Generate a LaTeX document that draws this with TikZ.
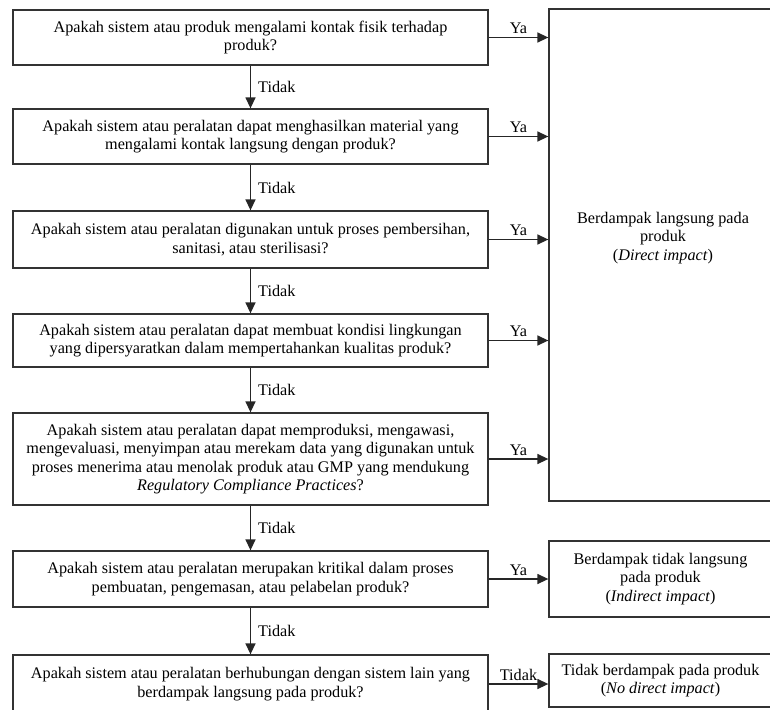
\documentclass[tikz,border=0pt]{standalone}
\usepackage{fontspec}
\setmainfont{Liberation Serif}
\usetikzlibrary{arrows.meta}
\begin{document}
\begin{tikzpicture}[x=1pt,y=-1pt,
  txt/.style={font=\fontsize{16.2}{18.5}\selectfont},
  q/.style={txt, draw=black!80, line width=1.3pt, minimum width=475pt, align=center, inner sep=2pt},
  r/.style={txt, draw=black!80, line width=1.3pt, minimum width=223pt, align=center, inner sep=2pt},
  arr/.style={-{Triangle[length=11pt,width=10pt]}, line width=1.4pt, draw=black!85, fill=black!85},
  lab/.style={txt, inner sep=1pt}]
\useasboundingbox (0,0) rectangle (770,709);

\node[q, minimum height=55pt] (q1) at (250.5,37.5) {Apakah sistem atau produk mengalami kontak fisik terhadap\\produk?};
\node[q, minimum height=55pt] (q2) at (250.5,136.5) {Apakah sistem atau peralatan dapat menghasilkan material yang\\mengalami kontak langsung dengan produk?};
\node[q, minimum height=57pt] (q3) at (250.5,239.5) {Apakah sistem atau peralatan digunakan untuk proses pembersihan,\\sanitasi, atau sterilisasi?};
\node[q, minimum height=53pt] (q4) at (250.5,340.5) {Apakah sistem atau peralatan dapat membuat kondisi lingkungan\\yang dipersyaratkan dalam mempertahankan kualitas produk?};
\node[q, minimum height=92pt] (q5) at (250.5,459) {Apakah sistem atau peralatan dapat memproduksi, mengawasi,\\mengevaluasi, menyimpan atau merekam data yang digunakan untuk\\proses menerima atau menolak produk atau GMP yang mendukung\\\textit{Regulatory Compliance Practices}?};
\node[q, minimum height=56pt] (q6) at (250.5,579) {Apakah sistem atau peralatan merupakan kritikal dalam proses\\pembuatan, pengemasan, atau pelabelan produk?};
\node[q, minimum height=58pt] (q7) at (250.5,684) {Apakah sistem atau peralatan berhubungan dengan sistem lain yang\\berdampak langsung pada produk?};

\node[r, minimum height=492pt] (big) at (660.5,255) {};
\node[txt, align=center] (bigtext) at (663,238) {Berdampak langsung pada\\produk\\(\textit{Direct impact})};
\node[r, minimum height=76pt] (ind) at (660.5,579) {Berdampak tidak langsung\\pada produk\\(\textit{Indirect impact})};
\node[r, minimum height=53pt] (none) at (660.5,680.5) {Tidak berdampak pada produk\\(\textit{No direct impact})};

\foreach \a/\b in {q1/q2,q2/q3,q3/q4,q4/q5,q5/q6,q6/q7}
  \draw[arr] (\a) -- node[lab, right, xshift=6pt]{Tidak} (\b);
\foreach \a in {q1,q2,q3,q4,q5}
  \draw[arr] (\a.east) -- node[lab, above, yshift=2pt]{Ya} (\a.east -| big.west);
\draw[arr] (q6.east) -- node[lab, above, yshift=2pt]{Ya} (q6.east -| ind.west);
\draw[arr] (q7.east) -- node[lab, above, yshift=2pt]{Tidak} (q7.east -| none.west);
\end{tikzpicture}
\end{document}
